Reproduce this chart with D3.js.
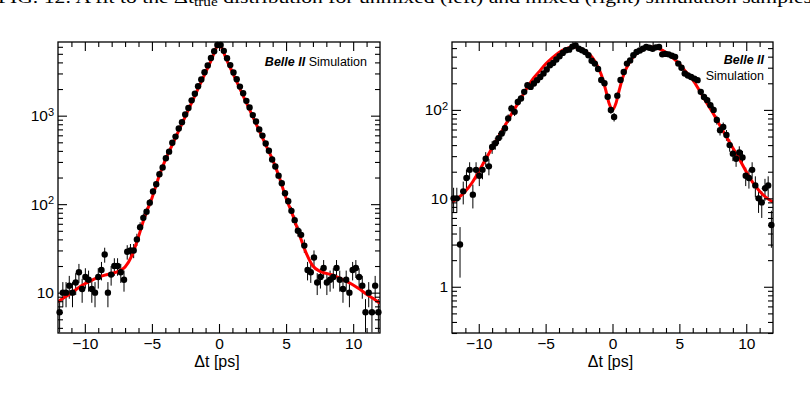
<!DOCTYPE html>
<html>
<head>
<meta charset="utf-8">
<script src="https://cdn.jsdelivr.net/npm/d3@7"></script>
<style>
  body { margin: 0; background: #fff; }
  svg { display: block; }
  text { font-family: "Liberation Sans", Arial, Helvetica, sans-serif; fill: #000; }
</style>
</head>
<body>
<svg id="chart" width="810" height="416"></svg>
<script>
// histogram definition: 100 bins on [-12, 12] ps
const binLow = -12, binHigh = 12, nBins = 100;
const binWidth = (binHigh - binLow) / nBins;

// unmixed sample (left), counts per bin
const unmixedCounts = [
  6, 10, 10, 12, 10, 13, 17, 11, 15, 14, 11, 10, 15, 18, 27, 10, 16, 20, 20, 17, 14, 29, 30, 30, 40,
  55, 70, 82, 104, 139, 168, 218, 260, 330, 392, 495, 580, 715, 845, 1030, 1220, 1490, 1770, 2150, 2560, 3100, 3700, 4480, 5350, 6300,
  6280, 5400, 4450, 3730, 3080, 2580, 2130, 1790, 1470, 1240, 1015, 860, 700, 595, 485, 402, 320, 266, 210, 172, 133, 108, 84, 66, 50,
  45, 34, 18, 17, 25, 13, 15, 19, 13, 14, 15, 19, 14, 11, 14, 10, 18, 19, 15, 12, 6, 10, 6, 12, 6
];

// mixed sample (right), counts per bin
const mixedCounts = [
  10, 10, 3, 12, 17, 21, 11, 21, 18, 21, 28, 23, 38, 42, 48, 54, 62, 80, 104, 95, 123, 135, 160, 190, 182,
  199, 217, 236, 258, 286, 320, 339, 371, 405, 441, 473, 480, 520, 537, 492, 473, 452, 415, 360, 334, 290, 218, 200, 141, 100,
  83, 145, 218, 268, 334, 363, 415, 452, 470, 492, 515, 505, 492, 510, 515, 425, 430, 425, 410, 398, 334, 300, 258, 245, 236,
  226, 217, 160, 140, 129, 113, 100, 77, 59, 64, 52, 40, 32, 28, 33, 29, 18, 17, 21, 14, 10, 9, 13, 14, 5
];

// fit curves
const unmixedFitT = [-12, -11.5, -11, -10.5, -10, -9.5, -9, -8.5, -8, -7.5, -7, -6.5, -6, -5.5, -5, -4.5, -4, -3.5, -3, -2.5, -2, -1.5, -1, -0.5, -0.25, 0,
  0.25, 0.5, 1, 1.5, 2, 2.5, 3, 3.5, 4, 4.5, 5, 5.5, 6, 6.5, 7, 7.5, 8, 8.5, 9, 9.5, 10, 10.5, 11, 11.5, 12];
const unmixedFitY = [7.9, 8.9, 9.9, 11.3, 12.6, 13.8, 14.9, 15.8, 16.5, 17.4, 19.5, 26, 43, 75, 117, 200, 316, 462, 676, 990, 1445, 2110, 3090, 4520, 5650, 6600,
  5650, 4520, 3090, 2110, 1445, 990, 676, 462, 316, 200, 117, 75, 45, 28, 20, 17.5, 16.5, 15.8, 14.6, 13.4, 12.2, 10.9, 9.6, 8.6, 7.6];

const mixedFitT = [-12, -11.5, -11, -10.5, -10, -9.5, -9, -8.5, -8, -7.5, -7, -6.5, -6, -5.5, -5, -4.5, -4, -3.5, -3, -2.5, -2, -1.5, -1, -0.75, -0.5, -0.25, 0,
  0.25, 0.5, 0.75, 1, 1.5, 2, 2.5, 3, 3.5, 4, 4.5, 5, 5.5, 6, 6.5, 7, 7.5, 8, 8.5, 9, 9.5, 10, 10.5, 11, 11.5, 12];
const mixedFitY = [9.1, 10.2, 12, 15, 20, 27.5, 37, 50, 68, 93, 123, 166, 219, 269, 331, 389, 447, 490, 513, 501, 457, 389, 288, 229, 166, 118, 100,
  118, 166, 229, 288, 389, 457, 501, 513, 490, 447, 389, 331, 269, 219, 166, 123, 93, 68, 50, 37, 27.5, 20, 15, 12, 10.2, 9.1];

const xMajorTicks = [-10, -5, 0, 5, 10];
const xTickLabels = ["\u221210", "\u22125", "0", "5", "10"];
const xMinorTicks = [-11, -9, -8, -7, -6, -4, -3, -2, -1, 1, 2, 3, 4, 6, 7, 8, 9, 11];
const xTitle = "\u0394t [ps]";

const svg = d3.select("#chart");

// caption of the figure, cut off by the top of the picture
const cap = svg.append("text")
  .attr("x", -2).attr("y", 2.5)
  .attr("textLength", 814).attr("lengthAdjust", "spacingAndGlyphs")
  .style("font-family", "'Liberation Serif', 'DejaVu Serif', serif")
  .style("font-size", "17px");
cap.append("tspan").text("FIG. 12: A fit to the \u0394t");
cap.append("tspan").attr("dy", 3).style("font-size", "12px").text("true");
cap.append("tspan").attr("dy", -3).text(" distribution for unmixed (left) and mixed (right) simulation samples");

function drawPanel(p) {
  const x = d3.scaleLinear().domain([binLow, binHigh]).range([p.left, p.right]);
  const y = d3.scaleLog().domain(p.yDomain).range([p.bottom, p.top]);

  svg.append("clipPath").attr("id", "clip-" + p.name)
    .append("rect")
    .attr("x", p.left).attr("y", p.top)
    .attr("width", p.right - p.left).attr("height", p.bottom - p.top);

  const plot = svg.append("g").attr("clip-path", `url(#clip-${p.name})`);

  const pts = p.counts.map((n, i) => ({ t: binLow + binWidth * (i + 0.5), n: n }));

  // error bars, sqrt(N)
  plot.selectAll("line.err").data(pts).join("line")
    .attr("class", "err")
    .attr("x1", d => x(d.t)).attr("x2", d => x(d.t))
    .attr("y1", d => { const lo = d.n - Math.sqrt(d.n); return lo > 0 ? y(lo) : p.bottom + 5; })
    .attr("y2", d => y(d.n + Math.sqrt(d.n)))
    .attr("stroke", "#000").attr("stroke-width", 1);

  svg.append("g").selectAll("circle").data(pts).join("circle")
    .attr("cx", d => x(d.t)).attr("cy", d => y(d.n))
    .attr("r", 3.2).attr("fill", "#000");

  // fit on top
  const line = d3.line()
    .x(d => x(d[0])).y(d => y(d[1]))
    .curve(d3.curveMonotoneX);
  plot.append("path")
    .datum(p.fitT.map((t, i) => [t, p.fitY[i]]))
    .attr("d", line)
    .attr("fill", "none").attr("stroke", "#ff0000").attr("stroke-width", 3);

  // axes, ticks pointing inward
  const yMajor = y.ticks().filter(v => Math.abs(Math.log10(v) - Math.round(Math.log10(v))) < 1e-9);
  const yMinor = y.ticks().filter(v => yMajor.indexOf(v) < 0);
  const noDomain = g => g.select(".domain").remove();

  svg.append("g").attr("transform", `translate(0,${p.bottom})`)
    .call(d3.axisBottom(x).tickValues(xMajorTicks).tickSize(-9).tickPadding(5)
      .tickFormat((d, i) => xTickLabels[i]))
    .call(noDomain)
    .call(g => g.selectAll("text").style("font-size", "15.5px").attr("font-family", null));
  svg.append("g").attr("transform", `translate(0,${p.bottom})`)
    .call(d3.axisBottom(x).tickValues(xMinorTicks).tickSize(-5).tickFormat(""))
    .call(noDomain);
  svg.append("g").attr("transform", `translate(0,${p.top})`)
    .call(d3.axisTop(x).tickValues(xMajorTicks).tickSize(-9).tickFormat(""))
    .call(noDomain);
  svg.append("g").attr("transform", `translate(0,${p.top})`)
    .call(d3.axisTop(x).tickValues(xMinorTicks).tickSize(-5).tickFormat(""))
    .call(noDomain);

  svg.append("g").attr("transform", `translate(${p.left},0)`)
    .call(d3.axisLeft(y).tickValues(yMajor).tickSize(-9).tickFormat(""))
    .call(noDomain);
  svg.append("g").attr("transform", `translate(${p.left},0)`)
    .call(d3.axisLeft(y).tickValues(yMinor).tickSize(-5).tickFormat(""))
    .call(noDomain);
  svg.append("g").attr("transform", `translate(${p.right},0)`)
    .call(d3.axisRight(y).tickValues(yMajor).tickSize(-9).tickFormat(""))
    .call(noDomain);
  svg.append("g").attr("transform", `translate(${p.right},0)`)
    .call(d3.axisRight(y).tickValues(yMinor).tickSize(-5).tickFormat(""))
    .call(noDomain);
  svg.selectAll(".tick line").attr("stroke", "#000").attr("stroke-width", 1.1);

  // y labels: 1, 10, 10^n
  yMajor.forEach(v => {
    const e = Math.round(Math.log10(v));
    const t = svg.append("text")
      .attr("x", p.left - 4).attr("y", y(v)).attr("dy", "0.36em")
      .attr("text-anchor", "end").style("font-size", "15.5px");
    if (e === 0) t.text("1");
    else if (e === 1) t.text("10");
    else {
      t.append("tspan").text("10");
      t.append("tspan").attr("dy", "-0.5em").style("font-size", "11px").text(e);
    }
  });

  svg.append("text")
    .attr("x", (p.left + p.right) / 2 - 2).attr("y", p.bottom + 34)
    .attr("text-anchor", "middle").style("font-size", "16px")
    .text(xTitle);

  svg.append("rect")
    .attr("x", p.left).attr("y", p.top)
    .attr("width", p.right - p.left).attr("height", p.bottom - p.top)
    .attr("fill", "none").attr("stroke", "#000").attr("stroke-width", 1.3);

  // experiment label
  p.label.forEach(l => {
    const t = svg.append("text")
      .attr("x", l.x).attr("y", l.y).attr("text-anchor", "end")
      .style("font-size", "12.5px");
    l.parts.forEach(pt => {
      const s = t.append("tspan").text(pt.text);
      if (pt.bold) s.style("font-weight", "bold").style("font-style", "italic");
    });
  });
}

drawPanel({
  name: "unmixed", left: 58, right: 380, top: 42, bottom: 333,
  yDomain: [3.5, 6800],
  counts: unmixedCounts, fitT: unmixedFitT, fitY: unmixedFitY,
  label: [{ x: 367, y: 66, parts: [{ text: "Belle II", bold: true }, { text: " Simulation" }] }]
});

drawPanel({
  name: "mixed", left: 452, right: 773, top: 42, bottom: 333,
  yDomain: [0.3, 586],
  counts: mixedCounts, fitT: mixedFitT, fitY: mixedFitY,
  label: [
    { x: 764, y: 64, parts: [{ text: "Belle II", bold: true }] },
    { x: 764, y: 80, parts: [{ text: "Simulation" }] }
  ]
});
</script>
</body>
</html>
